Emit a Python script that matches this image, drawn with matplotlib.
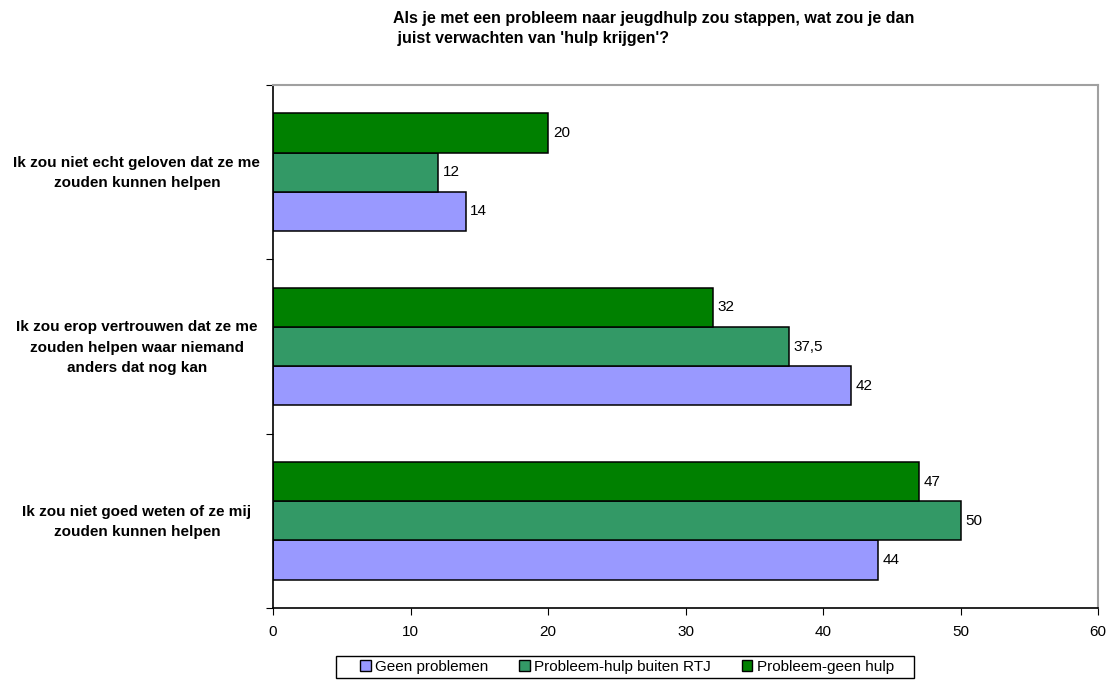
import numpy as np
import matplotlib.pyplot as plt
from matplotlib.patches import Rectangle
from matplotlib.ticker import FixedLocator

plt.rcParams['font.family'] = ['Liberation Sans', 'DejaVu Sans']

# categories, top to bottom
categories = [
    "Ik zou niet echt geloven dat ze me\nzouden kunnen helpen",
    "Ik zou erop vertrouwen dat ze me\nzouden helpen waar niemand\nanders dat nog kan",
    "Ik zou niet goed weten of ze mij\nzouden kunnen helpen",
]
series_names = ["Geen problemen", "Probleem-hulp buiten RTJ", "Probleem-geen hulp"]
geen_problemen = [14, 42, 44]
hulp_buiten_rtj = [12, 37.5, 50]
geen_hulp = [20, 32, 47]
value_labels = [
    ["14", "42", "44"],
    ["12", "37,5", "50"],
    ["20", "32", "47"],
]
colors = ["#9999FF", "#339966", "#008000"]

W, H = 1106, 680
fig = plt.figure(figsize=(W / 100, H / 100), dpi=100)
ax = fig.add_axes([273 / W, 1 - 608 / H, 825 / W, 523 / H])

y = np.arange(len(categories))[::-1].astype(float)
h = 0.225
offsets = [-h, 0, h]
all_series = [geen_problemen, hulp_buiten_rtj, geen_hulp]

for vals, off, col, name, labs in zip(all_series, offsets, colors, series_names, value_labels):
    bars = ax.barh(y + off, vals, height=h, color=col, edgecolor='black',
                   linewidth=1.1, label=name)
    for b, lab in zip(bars, labs):
        ax.text(b.get_width() + 0.35, b.get_y() + b.get_height() / 2, lab,
                va='center', ha='left', fontsize=11)

ax.set_xlim(0, 60)
ax.set_ylim(-0.5, 2.5)
ax.set_xticks(np.arange(0, 61, 10))
ax.tick_params(axis='x', direction='out', length=5, labelsize=11, pad=7)

# category boundaries as ticks, labels at group centres
ax.yaxis.set_major_locator(FixedLocator([-0.5, 0.5, 1.5, 2.5]))
ax.set_yticklabels([])
ax.tick_params(axis='y', which='major', direction='out', length=5)
ax.set_yticks(y + 0.02, minor=True)
ax.set_yticklabels(categories, minor=True, fontweight='bold', fontsize=11,
                   ha='center', linespacing=1.55)
ax.tick_params(axis='y', which='minor', length=0, pad=98)

ax.spines['top'].set_color('#a0a0a0')
ax.spines['right'].set_color('#a0a0a0')
ax.spines['top'].set_linewidth(1.5)
ax.spines['right'].set_linewidth(1.5)
ax.spines['left'].set_linewidth(1.2)
ax.spines['bottom'].set_linewidth(1.2)

fig.text(393 / W, 1 - 11 / H, "Als je met een probleem naar jeugdhulp zou stappen, wat zou je dan\n"
         " juist verwachten van 'hulp krijgen'?", fontsize=11.5, fontweight='bold',
         ha='left', va='top', linespacing=1.4)

# legend in one row, frame drawn around it with wider side padding
leg = fig.legend(loc='center left', bbox_to_anchor=(360 / W, 1 - 667 / H), ncol=3,
                 fontsize=11, frameon=False, borderaxespad=0,
                 handlelength=0.7, handleheight=0.7, handletextpad=0.3,
                 columnspacing=2.0, borderpad=0.0)
for p in leg.get_patches():
    p.set_edgecolor('black')
    p.set_linewidth(1.0)

fig.canvas.draw()
bb = leg.get_window_extent()
fig.patches.append(Rectangle(((bb.x0 - 24) / W, 2 / H), (bb.width + 44) / W, 22 / H,
                             transform=fig.transFigure, fill=False,
                             edgecolor='black', linewidth=1.0))

fig.savefig('out.png', dpi=100)
